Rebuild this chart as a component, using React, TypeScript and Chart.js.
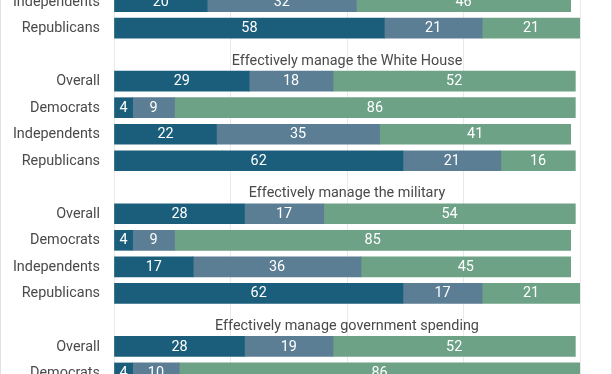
import React, { useEffect, useRef } from "react";
import { Chart, registerables } from "chart.js";

Chart.register(...registerables);

// Row labels (visible rows, top to bottom)
const rowLabels = [
  "Independents",
  "Republicans",
  "Overall",
  "Democrats",
  "Independents",
  "Republicans",
  "Overall",
  "Democrats",
  "Independents",
  "Republicans",
  "Overall",
  "Democrats",
];
// Slot position of each row on the vertical axis
const rowPositions = [0, 1, 3, 4, 5, 6, 8, 9, 10, 11, 13, 14];

// Group titles and their slots
const groupTitles = [
  "Effectively manage the White House",
  "Effectively manage the military",
  "Effectively manage government spending",
];
const titlePositions = [2.24, 7.24, 12.24];

// Series values
const seriesNames = ["Very/somewhat confident", "Neither", "Not confident"];
const series1 = [20, 58, 29, 4, 22, 62, 28, 4, 17, 62, 28, 4];
const series2 = [32, 21, 18, 9, 35, 21, 17, 9, 36, 17, 19, 10];
const series3 = [46, 21, 52, 86, 41, 16, 54, 85, 45, 21, 52, 86];
const seriesColors = ["#1b5e7c", "#5b7e95", "#6ea286"];

const xTicks = [0, 25, 50, 75, 100];

const FONT = "Roboto, 'Noto Sans', sans-serif";

export default function App() {
  const canvasRef = useRef<HTMLCanvasElement | null>(null);

  useEffect(() => {
    const canvas = canvasRef.current;
    if (!canvas) return;
    const allSeries = [series1, series2, series3];

    const labelPlugin = {
      id: "customLabels",
      afterDatasetsDraw(chart: any) {
        const ctx = chart.ctx;
        const yScale = chart.scales.y;
        const area = chart.chartArea;
        ctx.save();
        // values inside bars
        ctx.font = `14.4px ${FONT}`;
        ctx.fillStyle = "#ffffff";
        ctx.textAlign = "center";
        ctx.textBaseline = "middle";
        chart.data.datasets.forEach((ds: any, i: number) => {
          const meta = chart.getDatasetMeta(i);
          meta.data.forEach((bar: any, j: number) => {
            const p = bar.getProps(["x", "y", "base"], true);
            ctx.fillText(String(allSeries[i][j]), (p.x + p.base) / 2, p.y + 0.5);
          });
        });
        // row labels
        ctx.fillStyle = "#4a4a4a";
        ctx.textAlign = "right";
        rowLabels.forEach((lab, j) => {
          ctx.fillText(lab, area.left - 14, yScale.getPixelForValue(rowPositions[j]) + 0.5);
        });
        // group titles
        ctx.textAlign = "center";
        groupTitles.forEach((t, g) => {
          ctx.fillText(t, (area.left + area.right) / 2, yScale.getPixelForValue(titlePositions[g]));
        });
        ctx.restore();
      },
      afterDraw(chart: any) {
        const ctx = chart.ctx;
        ctx.save();
        ctx.strokeStyle = "#e2e2e2";
        ctx.lineWidth = 1;
        ctx.beginPath();
        ctx.moveTo(0.5, 0);
        ctx.lineTo(0.5, chart.height);
        ctx.moveTo(chart.width - 0.5, 0);
        ctx.lineTo(chart.width - 0.5, chart.height);
        ctx.stroke();
        ctx.restore();
      },
    };

    const chart = new Chart(canvas, {
      type: "bar",
      data: {
        datasets: allSeries.map((vals, i) => ({
          label: seriesNames[i],
          data: vals.map((v, j) => ({ x: v, y: rowPositions[j] })),
          backgroundColor: seriesColors[i],
          borderWidth: 0,
          barThickness: 20,
        })),
      },
      options: {
        indexAxis: "y",
        animation: false,
        responsive: false,
        devicePixelRatio: 1,
        layout: { padding: { left: 114, right: 32, top: 0, bottom: 0 } },
        plugins: { legend: { display: false }, tooltip: { enabled: false } },
        scales: {
          x: {
            type: "linear",
            min: xTicks[0],
            max: xTicks[xTicks.length - 1],
            stacked: true,
            afterBuildTicks: (scale: any) => {
              scale.ticks = xTicks.map((v) => ({ value: v }));
            },
            ticks: { display: false },
            grid: { color: "#e9e9e9", drawTicks: false, lineWidth: 1 },
            border: { display: false },
          },
          y: {
            type: "linear",
            reverse: true,
            offset: false,
            min: -0.06,
            max: 14.04,
            stacked: true,
            display: false,
          },
        },
      } as any,
      plugins: [labelPlugin],
    });
    return () => chart.destroy();
  }, []);

  return (
    <div
      style={{
        position: "fixed",
        top: 0,
        left: 0,
        width: 612,
        height: 374,
        background: "#ffffff",
        overflow: "hidden",
      }}
    >
      <canvas ref={canvasRef} width={612} height={374} style={{ display: "block", width: 612, height: 374 }} />
    </div>
  );
}
